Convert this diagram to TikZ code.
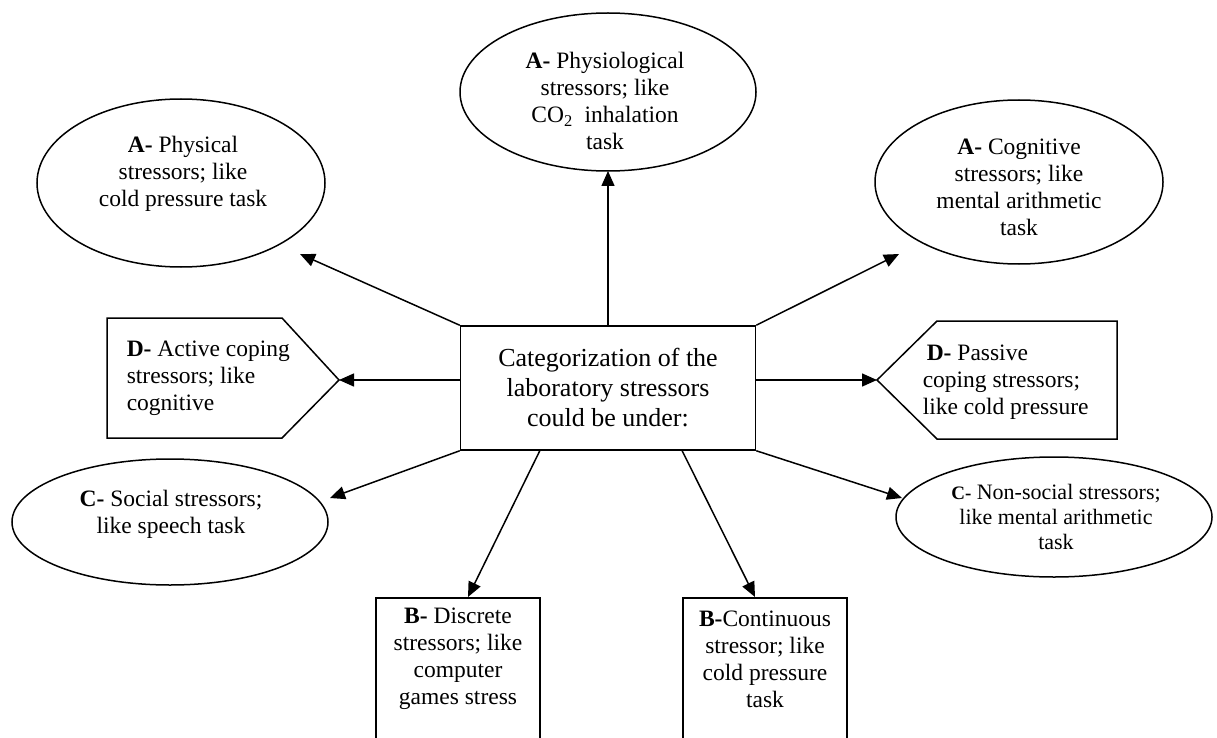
\documentclass[tikz,border=0pt]{standalone}
\usepackage{fontspec}
\setmainfont{Liberation Serif}
\usetikzlibrary{shapes.geometric, arrows.meta, calc}

\begin{document}
\begin{tikzpicture}[x=1pt, y=-1pt, line width=1.5pt, line join=miter,
    >={Triangle[length=15pt, width=13pt]},
    oval/.style={draw, ellipse, inner sep=0pt},
    box/.style={draw, rectangle, inner sep=0pt},
    txt/.style={align=center, inner sep=0pt, font=\fontsize{23.5}{27}\selectfont}]
    \useasboundingbox (0,0) rectangle (1217,738);
    \clip (0,0) rectangle (1217,738);

    % central box
    \node[box, minimum width=295pt, minimum height=124pt, align=center,
          font=\fontsize{26}{30}\selectfont] (cat) at (608,388)
          {Categorization of the\\laboratory stressors\\could be under:};

    % the ellipses
    \node[oval, minimum width=288pt, minimum height=168pt] (phys) at (181,183) {};
    \node[oval, minimum width=296pt, minimum height=158pt] (physio) at (608,92) {};
    \node[oval, minimum width=288pt, minimum height=164pt] (cogn) at (1019,182) {};
    \node[oval, minimum width=316pt, minimum height=126pt] (soc) at (170,522) {};
    \node[oval, minimum width=316pt, minimum height=120pt] (nonsoc) at (1054,517) {};

    \node[txt] (physT) at (183,174) {\textbf{A-} Physical\\stressors; like\\cold pressure task};
    \node[txt] (physioT) at (605,101) {\textbf{A-} Physiological\\stressors; like\\CO\textsubscript{2}~ inhalation\\task};
    \node[txt] (cognT) at (1019,187) {\textbf{A-} Cognitive\\stressors; like\\mental arithmetic\\task};
    \node[txt] (socT) at (171,514) {\textbf{C-} Social stressors;\\like speech task};
    \node[txt, font=\fontsize{22}{25}\selectfont] (nonsocT) at (1056,517)
          {{\fontsize{19}{25}\selectfont\textbf{C-}} Non-social stressors;\\like mental arithmetic\\task};

    % pentagons
    \coordinate (actTip) at (339,380);
    \draw (107,318) -- (282,318) -- (actTip) -- (282,438) -- (107,438) -- cycle;
    \coordinate (pasTip) at (877,380);
    \draw (pasTip) -- (937,321) -- (1117,321) -- (1117,439) -- (937,439) -- cycle;

    \node[txt, align=left, anchor=west] (actT) at (126,378) {\textbf{D-} Active coping\\stressors; like\\cognitive};
    \node[txt, align=left, anchor=west] (pasT) at (922,382) {\hspace{4pt}\textbf{D-} Passive\\coping stressors;\\like cold pressure};

    % bottom boxes, cut by the page edge
    \node[box, minimum width=164pt, minimum height=220pt, anchor=north] (disc) at (458,597) {};
    \node[box, minimum width=164pt, minimum height=220pt, anchor=north] (cont) at (765,597) {};

    \node[txt] (discT) at (458,659) {\textbf{B-} Discrete\\stressors; like\\computer\\games stress};
    \node[txt] (contT) at (765,659) {\textbf{B-}Continuous\\stressor; like\\cold pressure\\task};

    % arrow ends
    \coordinate (physTip) at (300,254);
    \coordinate (physioTip) at (608,171);
    \coordinate (cognTip) at (899,254);
    \coordinate (socTip) at (330,498);
    \coordinate (nonsocTip) at (902,498);
    \coordinate (discTip) at (468,597);
    \coordinate (contTip) at (755,597);
    \coordinate (discFoot) at ($(cat.south west)!0.27!(cat.south east)$);
    \coordinate (contFoot) at ($(cat.south west)!0.75!(cat.south east)$);

    \draw[->] (cat.north) -- (cat.north |- physioTip);
    \draw[->] (cat.north west) -- (physTip);
    \draw[->] (cat.north east) -- (cognTip);
    \draw[->] (actTip -| cat.west) -- (actTip);
    \draw[->] (pasTip -| cat.east) -- (pasTip);
    \draw[->] (cat.south west) -- (socTip);
    \draw[->] (cat.south east) -- (nonsocTip);
    \draw[->] (discFoot) -- (discTip);
    \draw[->] (contFoot) -- (contTip);
\end{tikzpicture}
\end{document}
